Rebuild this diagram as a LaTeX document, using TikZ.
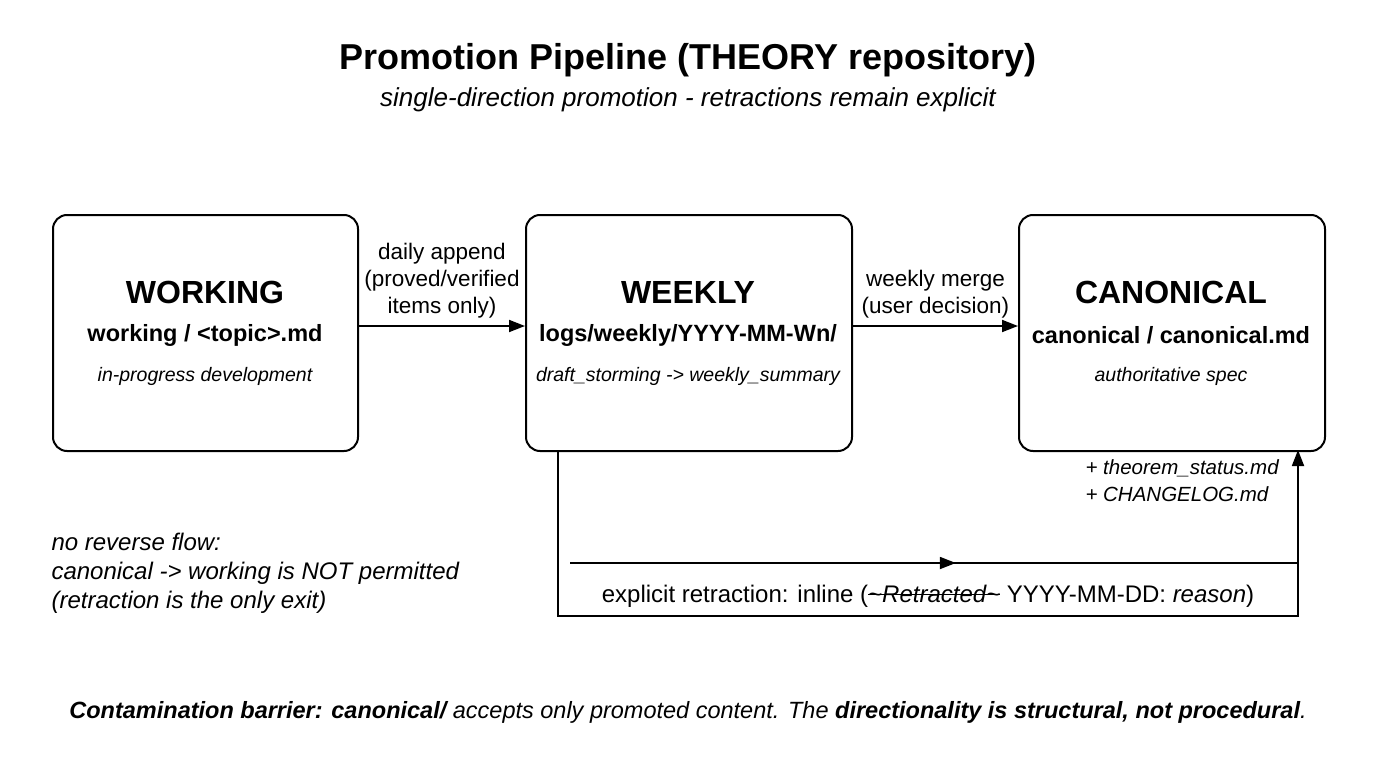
\documentclass[tikz,border=0pt]{standalone}
\usepackage{fontspec}
\setmainfont{Liberation Sans}
\usetikzlibrary{arrows.meta,decorations.markings}
\newlength\stw
\newcommand\mystrike[1]{\settowidth\stw{#1}\rlap{\rule[0.3em]{\stw}{1.3pt}}#1}
\begin{document}
\begin{tikzpicture}[x=1pt,y=-1pt,
  box/.style={draw,line width=2pt,rounded corners=14pt,minimum width=305pt,minimum height=236pt,anchor=north west},
  conn/.style={line width=1.8pt,-{Triangle[length=16pt,width=12pt]}},
  lbl/.style={font=\fontsize{22.5}{27}\selectfont,align=center}]
\useasboundingbox[fill=white] (0,0) rectangle (1376,768);
\node[font=\bfseries\fontsize{36}{40}\selectfont] (title) at (688,60) {Promotion Pipeline (THEORY repository)};
\node[font=\itshape\fontsize{26}{30}\selectfont] (sub) at (688,100) {single-direction promotion - retractions remain explicit};
\node[box] (w) at (52,214) {};
\node[box,minimum width=326pt] (k) at (525,214) {};
\node[box,minimum width=306pt] (c) at (1018,214) {};
\node[font=\bfseries\fontsize{32}{36}\selectfont] (wt) at (205,292) {WORKING};
\node[font=\bfseries\fontsize{23.5}{27}\selectfont] (wf) at (205,335) {working / <topic>.md};
\node[font=\itshape\fontsize{19.5}{23}\selectfont] (wd) at (205,376) {in-progress development};
\node[font=\bfseries\fontsize{32}{36}\selectfont] (kt) at (688,292) {WEEKLY};
\node[font=\bfseries\fontsize{23.5}{27}\selectfont] (kf) at (688,335) {logs/weekly/YYYY-MM-Wn/};
\node[font=\itshape\fontsize{19.5}{23}\selectfont] (kd) at (688,376) {draft\_storming -> weekly\_summary};
\node[font=\bfseries\fontsize{32}{36}\selectfont] (ct) at (1171,292) {CANONICAL};
\node[font=\bfseries\fontsize{23.5}{27}\selectfont] (cf) at (1171,335) {canonical / canonical.md};
\node[font=\itshape\fontsize{19.5}{23}\selectfont] (cd) at (1171,376) {authoritative spec};
\draw[conn] (w.east|-0,326) -- (k.west|-0,326) node[pos=0.5,above=4pt,lbl] {daily append\\(proved/verified\\items only)};
\draw[conn] (k.east|-0,326) -- (c.west|-0,326) node[pos=0.5,above=4pt,lbl] {weekly merge\\(user decision)};
\node[font=\itshape\fontsize{20.5}{27}\selectfont,align=left,anchor=north west] (extra) at (1082,456) {+ theorem\_status.md\\+ CHANGELOG.md};
\coordinate (ks) at (558,450);
\coordinate (ce) at (1298,450);
\draw[conn] (ks) -- (558,616) -- (1298,616) -- (ce);
\coordinate (ha) at (570,563);
\coordinate (hb) at (1298,563);
\draw[line width=1.8pt,decoration={markings,mark=at position 0.53 with {\arrow{Triangle[length=16pt,width=12pt]}}},postaction=decorate] (ha) -- (hb);
\node[font=\fontsize{24}{28}\selectfont] (rt) at (928,596) {explicit retraction: inline (\mystrike{\textit{\textasciitilde Retracted\textasciitilde}} YYYY-MM-DD: \textit{reason})};
\node[font=\itshape\fontsize{24}{29}\selectfont,align=left,anchor=north west] (note) at (48,530) {no reverse flow:\\canonical -> working is NOT permitted\\(retraction is the only exit)};
\node[font=\itshape\fontsize{23.5}{27}\selectfont] (foot) at (688,712) {\bfseries Contamination barrier: canonical/\mdseries{} accepts only promoted content. The \bfseries directionality is structural, not procedural\mdseries.};
\end{tikzpicture}
\end{document}
